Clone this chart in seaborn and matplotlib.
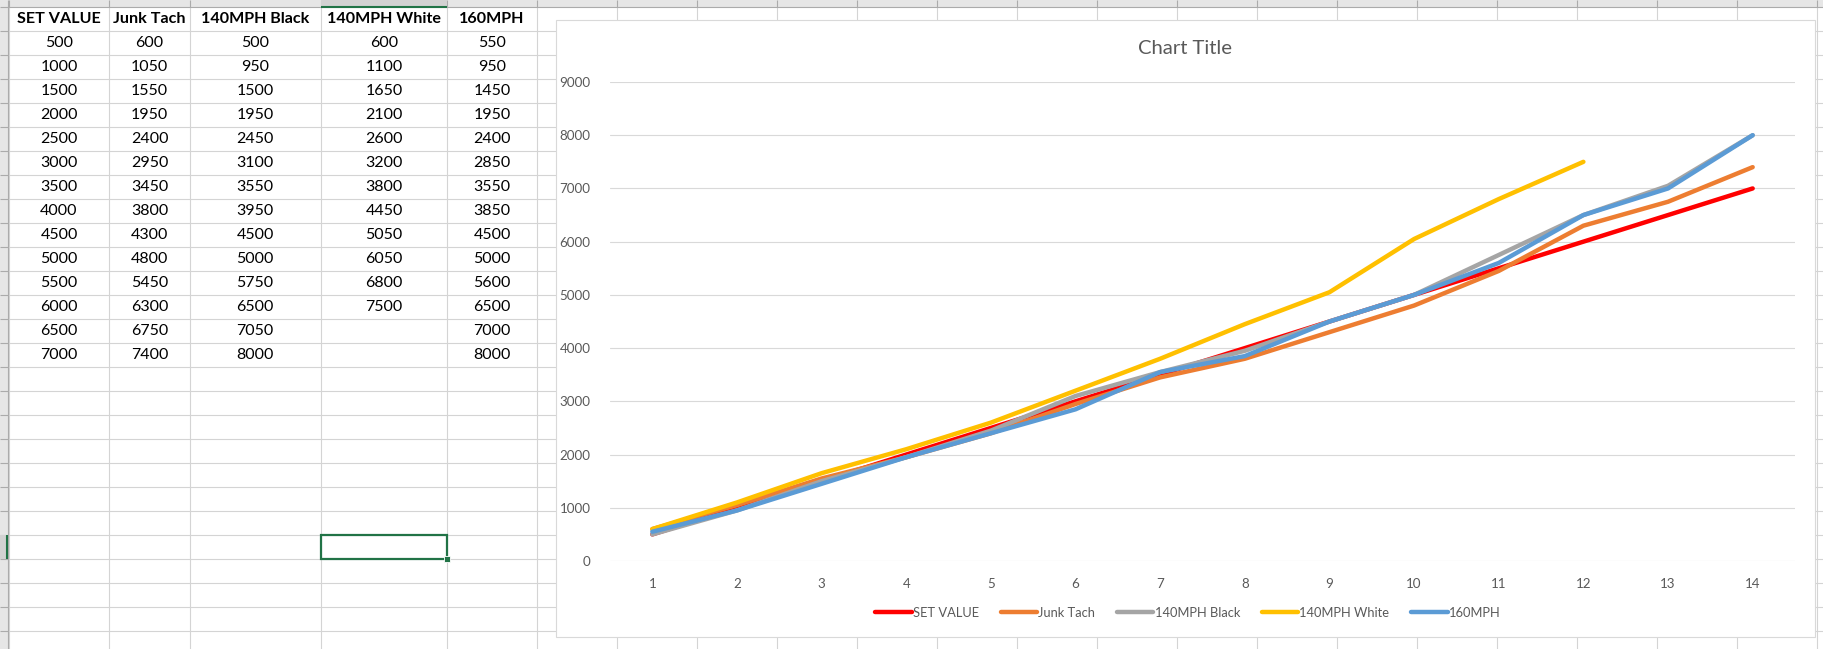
import matplotlib
matplotlib.use("Agg")
import matplotlib.pyplot as plt
import matplotlib.patches as mpatches
from matplotlib.lines import Line2D
import seaborn as sns
import pandas as pd
import numpy as np

# ---------------- data ----------------
point = list(range(1, 15))
series_names = ['SET VALUE', 'Junk Tach', '140MPH Black', '140MPH White', '160MPH']
set_value = [500, 1000, 1500, 2000, 2500, 3000, 3500, 4000, 4500, 5000, 5500, 6000, 6500, 7000]
junk_tach = [600, 1050, 1550, 1950, 2400, 2950, 3450, 3800, 4300, 4800, 5450, 6300, 6750, 7400]
mph140_black = [500, 950, 1500, 1950, 2450, 3100, 3550, 3950, 4500, 5000, 5750, 6500, 7050, 8000]
mph140_white = [600, 1100, 1650, 2100, 2600, 3200, 3800, 4450, 5050, 6050, 6800, 7500, None, None]
mph160 = [550, 950, 1450, 1950, 2400, 2850, 3550, 3850, 4500, 5000, 5600, 6500, 7000, 8000]
y_ticks = list(range(0, 10000, 1000))

colors = {'SET VALUE': '#FF0000', 'Junk Tach': '#ED7D31', '140MPH Black': '#A5A5A5',
          '140MPH White': '#FFC000', '160MPH': '#5B9BD5'}

wide = pd.DataFrame({'point': point, 'SET VALUE': set_value, 'Junk Tach': junk_tach,
                     '140MPH Black': mph140_black, '140MPH White': mph140_white, '160MPH': mph160})
long_df = wide.melt(id_vars='point', var_name='series', value_name='value').dropna()

sns.set_style("white")
plt.rcParams['font.family'] = ['Lato', 'DejaVu Sans']
plt.rcParams['lines.solid_capstyle'] = 'round'
plt.rcParams['lines.solid_joinstyle'] = 'round'

W, H = 1824, 649
fig = plt.figure(figsize=(W / 100, H / 100), dpi=100)

# ---------------- spreadsheet background (pixel coords) ----------------
bg = fig.add_axes([0, 0, 1, 1])
bg.set_xlim(0, W)
bg.set_ylim(H, 0)
bg.axis('off')

grid_c = '#d4d4d4'
col_edges = [9, 109, 190, 321, 447] + list(range(537, W + 1, 80))
row_edges = list(range(31, H, 24))
bg.vlines(col_edges, 7, H, color=grid_c, lw=0.8, zorder=1)
bg.hlines(row_edges, 8, W, color=grid_c, lw=0.8, zorder=1)

# header strips
bg.add_patch(mpatches.Rectangle((0, 0), W, 7, facecolor='#e6e6e6', edgecolor='none', zorder=2))
bg.add_patch(mpatches.Rectangle((0, 0), 8, H, facecolor='#e6e6e6', edgecolor='none', zorder=2))
bg.hlines(7, 0, W, color='#ababab', lw=0.8, zorder=3)
bg.vlines(8, 0, H, color='#ababab', lw=0.8, zorder=3)
bg.vlines(col_edges, 0, 7, color='#ababab', lw=0.8, zorder=3)
bg.hlines(row_edges, 0, 8, color='#ababab', lw=0.8, zorder=3)
bg.add_patch(mpatches.Rectangle((321, 0), 126, 7, facecolor='#d2d2d2', edgecolor='none', zorder=3))
bg.hlines(6.5, 321, 447, color='#217346', lw=1.5, zorder=4)
bg.add_patch(mpatches.Rectangle((0, 535), 8, 24, facecolor='#d2d2d2', edgecolor='none', zorder=3))
bg.vlines(7.5, 535, 559, color='#217346', lw=1.5, zorder=4)

# table text
col_centers = [59, 149.5, 255, 384, 492]
table_cols = [set_value, junk_tach, mph140_black, mph140_white, mph160]
for cx, name, vals in zip(col_centers, series_names, table_cols):
    bg.text(cx, 19, name, ha='center', va='center', fontsize=11.6, fontweight='bold',
            color='black', zorder=5)
    for i, v in enumerate(vals):
        if v is None:
            continue
        bg.text(cx, 43 + 24 * i, str(v), ha='center', va='center', fontsize=11.5,
                color='black', zorder=5)

# selected cell
bg.add_patch(mpatches.Rectangle((321, 535), 126, 24, facecolor='none', edgecolor='#217346',
                                lw=1.6, zorder=6))
bg.add_patch(mpatches.Rectangle((444, 556), 6, 6, facecolor='#217346', edgecolor='white',
                                lw=0.6, zorder=7))

# chart area
bg.add_patch(mpatches.Rectangle((556, 20), 1815 - 556, 637 - 20, facecolor='white',
                                edgecolor='#d9d9d9', lw=0.8, zorder=8))
bg.text(1185, 49, 'Chart Title', ha='center', va='center', fontsize=14.6, color='#595959', zorder=9)

# ---------------- chart ----------------
px_left, px_right, px_top, px_bottom = 610, 1795, 82, 561
ax = fig.add_axes([px_left / W, (H - px_bottom) / H, (px_right - px_left) / W,
                   (px_bottom - px_top) / H])
ax.patch.set_alpha(0)

sns.lineplot(data=long_df, x='point', y='value', hue='series', hue_order=series_names,
             palette=colors, linewidth=3.2, errorbar=None, legend=False, ax=ax, zorder=3)

ax.set_xlim(0.5, 14.5)
ax.set_ylim(0, 9000)
ax.set_yticks(y_ticks)
ax.set_xticks(point)
ax.yaxis.grid(True, color='#d9d9d9', lw=0.8)
ax.xaxis.grid(False)
for s in ax.spines.values():
    s.set_visible(False)
ax.tick_params(axis='both', length=0, labelsize=9.6, labelcolor='#595959')
ax.tick_params(axis='y', pad=14)
ax.tick_params(axis='x', pad=12)
ax.set_xlabel('')
ax.set_ylabel('')

handles = [Line2D([0], [0], color=colors[n], lw=3.2) for n in series_names]
fig.legend(handles, series_names, loc='center', bbox_to_anchor=(1188 / W, 1 - 613 / H),
           ncol=5, frameon=False, fontsize=9.3, handlelength=2.8, handletextpad=0.1,
           columnspacing=1.7, labelcolor='#595959')

fig.savefig('out.png', dpi=100)
